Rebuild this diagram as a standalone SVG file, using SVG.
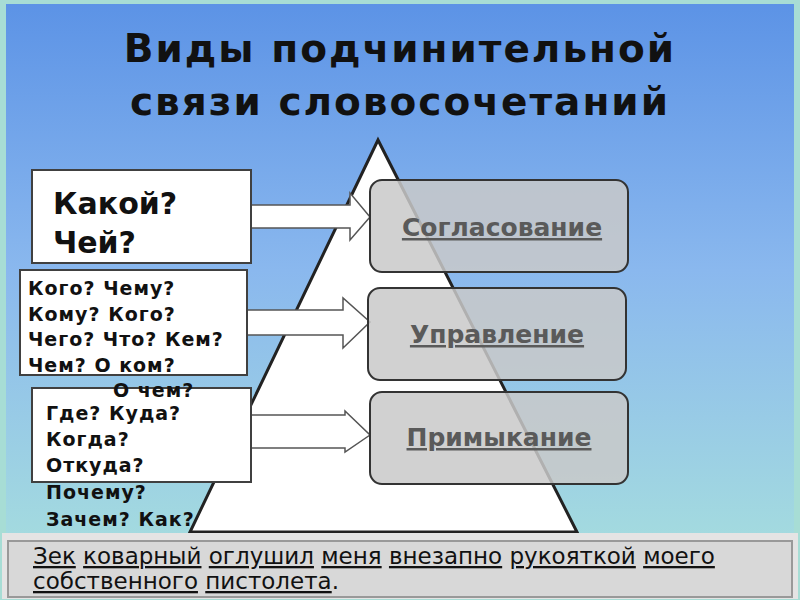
<svg xmlns="http://www.w3.org/2000/svg" width="800" height="600" viewBox="0 0 800 600">
<defs>
<linearGradient id="bg" x1="0" y1="0" x2="0" y2="1">
<stop offset="0" stop-color="#5c93e6"/><stop offset="0.45" stop-color="#8ab8ee"/><stop offset="1" stop-color="#a9e2dc"/>
</linearGradient>
<style>
.q{font-family:"DejaVu Sans",sans-serif;font-weight:bold;fill:#111}
.box{fill:#fff;stroke:#404040;stroke-width:2}
.arr{fill:#fff;stroke:#555;stroke-width:1.5}
.rb{fill:#c9c9c9;fill-opacity:0.85;stroke:#333;stroke-width:2}
.rt{font-family:"DejaVu Sans",sans-serif;font-weight:bold;font-size:25px;fill:#5a5a5a;text-decoration:underline;text-anchor:middle}
.bt{font-family:"DejaVu Sans",sans-serif;font-size:23px;fill:#111}
.u{text-decoration:underline}
</style>
</defs>
<rect width="800" height="600" fill="#a7ddd5"/>
<rect x="6" y="4" width="788" height="592" fill="url(#bg)"/>
<text class="q" x="400" y="62" font-size="39" text-anchor="middle" letter-spacing="2" fill="#1a1a1a">Виды подчинительной</text>
<text class="q" x="400" y="115" font-size="39" text-anchor="middle" letter-spacing="2" fill="#1a1a1a">связи словосочетаний</text>
<polygon points="378,140 190,532 577,532" fill="#fff" stroke="#222" stroke-width="3"/>
<g id="connectors">
<polygon class="arr" points="251,205 350,205 350,193 370,217 350,240 350,228 251,228"/>
<polygon class="arr" points="247,310 343,310 343,298 370,322 343,348 343,335 247,335"/>
<polygon class="arr" points="251,415 345,415 345,411 370,435 345,452 345,448 251,448"/>
</g>
<g id="n1"><rect class="box" x="32" y="170" width="219" height="93"/>
<text class="q" font-size="30" x="53" y="214">Какой?</text><text class="q" font-size="30" x="53" y="253">Чей?</text></g>
<g id="n2"><rect class="box" x="20" y="270" width="227" height="105"/>
<text class="q" font-size="19" letter-spacing="1"><tspan x="28" y="295">Кого? Чему?</tspan><tspan x="28" y="321">Кому? Кого?</tspan><tspan x="28" y="346">Чего? Что? Кем?</tspan><tspan x="28" y="372">Чем? О ком?</tspan></text></g>
<g id="n3"><rect class="box" x="32" y="388" width="219" height="94"/>
<text class="q" font-size="19" letter-spacing="1"><tspan x="113" y="397">О чем?</tspan><tspan x="46" y="420">Где? Куда?</tspan><tspan x="46" y="446">Когда?</tspan><tspan x="46" y="472">Откуда?</tspan><tspan x="46" y="499">Почему?</tspan><tspan x="46" y="526">Зачем? Как?</tspan></text></g>
<g id="r1"><rect class="rb" x="370" y="180" width="258" height="92" rx="12"/><text class="rt" x="502" y="236">Согласование</text></g>
<g id="r2"><rect class="rb" x="368" y="288" width="258" height="92" rx="12"/><text class="rt" x="497" y="343">Управление</text></g>
<g id="r3"><rect class="rb" x="370" y="392" width="258" height="92" rx="12"/><text class="rt" x="499" y="446">Примыкание</text></g>
<g id="bar">
<rect x="2" y="533" width="796" height="66" fill="#e4e4e4"/>
<rect x="8" y="541" width="784" height="56" fill="#d8d8d8" stroke="#999" stroke-width="2"/>
<text class="bt" x="33" y="564" xml:space="preserve"><tspan class="u">Зек</tspan> <tspan class="u">коварный</tspan> <tspan class="u">оглушил</tspan> <tspan class="u">меня</tspan> <tspan class="u">внезапно</tspan> <tspan class="u">рукояткой</tspan> <tspan class="u">моего</tspan></text>
<text class="bt" x="33" y="589" xml:space="preserve"><tspan class="u">собственного</tspan> <tspan class="u">пистолета</tspan>.</text>
</g>
</svg>
